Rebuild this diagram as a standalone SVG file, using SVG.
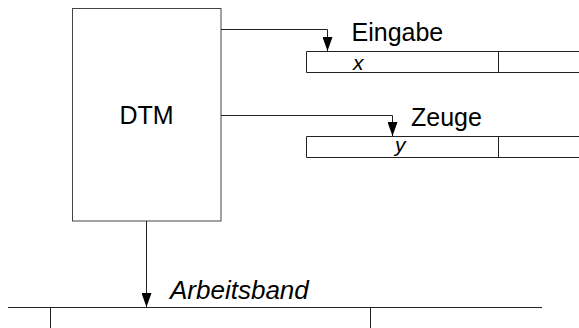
<svg xmlns="http://www.w3.org/2000/svg" width="579" height="328" viewBox="0 0 579 328">
<style>
.ln{fill:none;stroke:#222;stroke-width:1}
.bx{fill:#fff;stroke:#444;stroke-width:1}
.t{font-family:"Liberation Sans",Arial,sans-serif;fill:#000}
.lbl{font-size:25px}
.it{font-style:italic}
</style>
<defs>
<marker id="ah" viewBox="0 0 14 10" refX="14" refY="5" markerWidth="14" markerHeight="10" markerUnits="userSpaceOnUse" orient="auto">
<path d="M0,0 L14,5 L0,10 Z" fill="#000"/>
</marker>
</defs>
<rect width="579" height="328" fill="#fff"/>
<g id="dtm">
<rect class="bx" x="72.5" y="8.5" width="148.5" height="212.5"/>
<text class="t lbl" x="146.5" y="124" text-anchor="middle">DTM</text>
</g>
<g id="eingabe">
<path class="ln" d="M306.5,51.5 H579 M306.5,72.5 H579 M306.5,51.5 V72.5 M498.5,51.5 V72.5"/>
<text class="t lbl" x="351.5" y="41">Eingabe</text>
<text class="t it" x="353" y="70" font-size="21">x</text>
</g>
<g id="zeuge">
<path class="ln" d="M306.5,136.5 H579 M306.5,157.5 H579 M306.5,136.5 V157.5 M498.5,136.5 V157.5"/>
<text class="t lbl" x="411" y="126">Zeuge</text>
<text class="t it" x="395" y="152" font-size="21">y</text>
</g>
<g id="arbeitsband">
<path class="ln" d="M8,307.5 H542 M50.5,307.5 V328 M370.5,307.5 V328"/>
<text class="t it" x="170" y="299" font-size="26">Arbeitsband</text>
</g>
<g id="connectors">
<path class="ln" d="M221,29.5 H327.5 V51" marker-end="url(#ah)"/>
<path class="ln" d="M221,115.5 H392.5 V136" marker-end="url(#ah)"/>
<path class="ln" d="M146.5,221 V307" marker-end="url(#ah)"/>
</g>
</svg>
